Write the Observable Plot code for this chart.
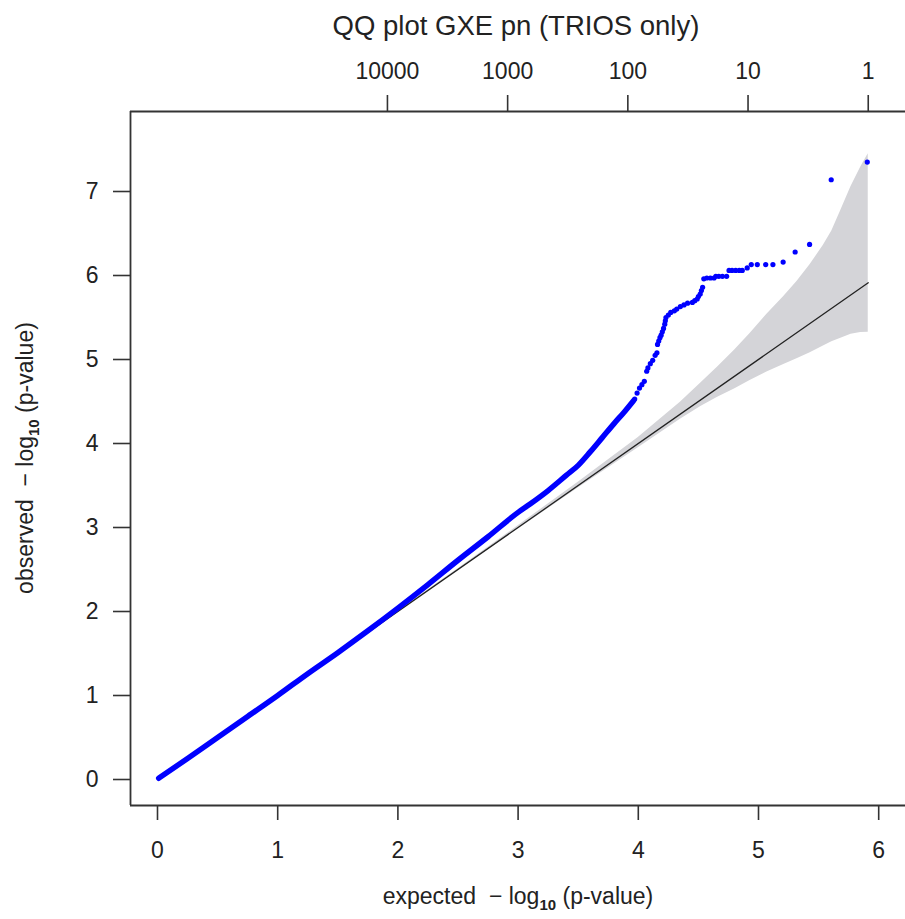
<!DOCTYPE html>
<html>
<head>
<meta charset="utf-8">
<script src="https://cdn.jsdelivr.net/npm/d3@7"></script>
<script src="https://cdn.jsdelivr.net/npm/@observablehq/plot@0.6"></script>
<style>
  html, body { margin: 0; padding: 0; background: #fff; }
  #chart svg { display: block; }
</style>
</head>
<body>
<div id="chart"></div>
<script>
// ---- data ----
const titleText = "QQ plot GXE pn (TRIOS only)";

// axis ticks
const xTicks = [0, 1, 2, 3, 4, 5, 6];
const yTicks = [0, 1, 2, 3, 4, 5, 6, 7];
const topTickLabels = [10000, 1000, 100, 10, 1];
const xMaxExpected = 5.913;   // expected -log10 p of the top-ranked test

// axis extents
const xDomain = [-0.2246, 6.223];
const yDomain = [-0.3095, 7.9524];

// dense part of the observed curve (thick blue run of points)
const denseExpected = [0.01, 0.25, 0.5, 0.75, 1.0, 1.25, 1.5, 1.75, 2.0, 2.25, 2.5, 2.75, 3.0, 3.1, 3.25, 3.4, 3.5, 3.6, 3.7, 3.8, 3.88, 3.96];
const denseObserved = [0.015, 0.25, 0.5, 0.75, 1.0, 1.26, 1.51, 1.77, 2.04, 2.32, 2.61, 2.89, 3.18, 3.28, 3.44, 3.62, 3.74, 3.90, 4.07, 4.24, 4.37, 4.51];

// upper tail (individual points)
const tailExpected = [3.97, 3.99, 4.01, 4.03, 4.05, 4.07, 4.08, 4.10, 4.12, 4.14, 4.155, 4.16, 4.17, 4.18, 4.19, 4.20, 4.21, 4.22, 4.225, 4.23, 4.25, 4.27, 4.30, 4.32, 4.35, 4.38, 4.41, 4.45, 4.47, 4.49, 4.50, 4.515, 4.525, 4.535, 4.545, 4.57, 4.60, 4.63, 4.645, 4.67, 4.70, 4.735, 4.755, 4.78, 4.81, 4.84, 4.865, 4.906, 4.94, 4.99, 5.06, 5.12, 5.205, 5.305, 5.425, 5.605, 5.905];
const tailObserved = [4.53, 4.60, 4.66, 4.70, 4.74, 4.86, 4.90, 4.95, 4.99, 5.05, 5.08, 5.18, 5.22, 5.26, 5.29, 5.33, 5.37, 5.42, 5.46, 5.50, 5.53, 5.56, 5.58, 5.60, 5.63, 5.65, 5.67, 5.68, 5.70, 5.72, 5.75, 5.78, 5.82, 5.86, 5.96, 5.97, 5.97, 5.97, 5.99, 5.99, 5.99, 5.99, 6.06, 6.06, 6.06, 6.06, 6.06, 6.09, 6.13, 6.13, 6.13, 6.13, 6.16, 6.28, 6.37, 7.14, 7.35];

// confidence band
const bandX     = [0, 1, 2, 2.5, 3, 3.5, 4, 4.35, 4.52, 4.66, 4.8, 4.93, 5.07, 5.21, 5.32, 5.43, 5.54, 5.61, 5.68, 5.77, 5.85, 5.913];
const bandUpper = [0, 1.0, 2.005, 2.51, 3.02, 3.54, 4.07, 4.49, 4.72, 4.91, 5.11, 5.31, 5.54, 5.75, 5.93, 6.13, 6.36, 6.53, 6.76, 7.06, 7.29, 7.45];
const bandLower = [0, 1.0, 1.995, 2.49, 2.98, 3.47, 3.95, 4.29, 4.44, 4.55, 4.65, 4.75, 4.85, 4.94, 5.01, 5.08, 5.16, 5.21, 5.25, 5.30, 5.32, 5.323];

// reference line y = x
const refX = [0, 5.913];
const refY = [0, 5.913];

// ---- chart ----
const FONT = "'Liberation Sans', Arial, Helvetica, sans-serif";
const INK = "#333";
const topTickPos = topTickLabels.map(n => xMaxExpected - Math.log10(n));
const topLabelMap = new Map(topTickPos.map((p, i) => [p, String(topTickLabels[i])]));
const intFmt = d => String(d);

const chart = Plot.plot({
  width: 905,
  height: 919,
  marginLeft: 130,
  marginRight: 0,
  marginTop: 111,
  marginBottom: 114,
  style: { fontFamily: FONT, background: "#fff", color: "#222", overflow: "visible" },
  x: { domain: xDomain, label: null },
  y: { domain: yDomain, label: null },
  marks: [
    Plot.areaY(bandX, { x: d => d, y1: (d, i) => bandLower[i], y2: (d, i) => bandUpper[i], fill: "#d4d4d8" }),
    Plot.line(refX, { x: d => d, y: (d, i) => refY[i], stroke: "#222", strokeWidth: 1.3 }),
    Plot.line(denseExpected, { x: d => d, y: (d, i) => denseObserved[i], stroke: "#0000ff", strokeWidth: 5.5, strokeLinecap: "round", strokeLinejoin: "round", curve: "monotone-x" }),
    Plot.dot(tailExpected, { x: d => d, y: (d, i) => tailObserved[i], r: 2.6, fill: "#0000ff", stroke: "none" }),
    Plot.ruleX([xDomain[0]], { stroke: INK, strokeWidth: 1.8 }),
    Plot.ruleY([yDomain[0], yDomain[1]], { stroke: INK, strokeWidth: 1.8 }),
    Plot.axisX(xTicks, { anchor: "bottom", tickSize: 15, tickPadding: 21, fontSize: 23, stroke: INK, strokeWidth: 1.6, tickFormat: intFmt, label: null }),
    Plot.axisX(topTickPos, { anchor: "top", tickSize: 17, tickPadding: 16, fontSize: 23, stroke: INK, strokeWidth: 1.6, tickFormat: d => topLabelMap.get(d), label: null }),
    Plot.axisY(yTicks, { anchor: "left", tickSize: 17, tickPadding: 15, fontSize: 23, stroke: INK, strokeWidth: 1.6, tickFormat: intFmt, label: null })
  ]
});

document.getElementById("chart").appendChild(chart);

// title and axis titles (with subscript) as real SVG text
const svg = d3.select(chart);
svg.append("text")
  .attr("x", 516).attr("y", 35)
  .attr("text-anchor", "middle")
  .attr("font-family", FONT).attr("font-size", 27.5).attr("fill", "#222")
  .text(titleText);

function axisTitle(g, prefix) {
  const t = g.append("text")
    .attr("text-anchor", "middle")
    .attr("font-family", FONT).attr("font-size", 23).attr("fill", "#222")
    .style("white-space", "pre");
  t.append("tspan").text(prefix + "  \u2212 log");
  t.append("tspan").attr("font-size", 15).attr("font-weight", "bold").attr("dy", 6).text("10");
  t.append("tspan").attr("dy", -6).text(" (p-value)");
  return t;
}
axisTitle(svg.append("g").attr("transform", "translate(518,904)"), "expected");
axisTitle(svg.append("g").attr("transform", "translate(33,458) rotate(-90)"), "observed");
</script>
</body>
</html>
